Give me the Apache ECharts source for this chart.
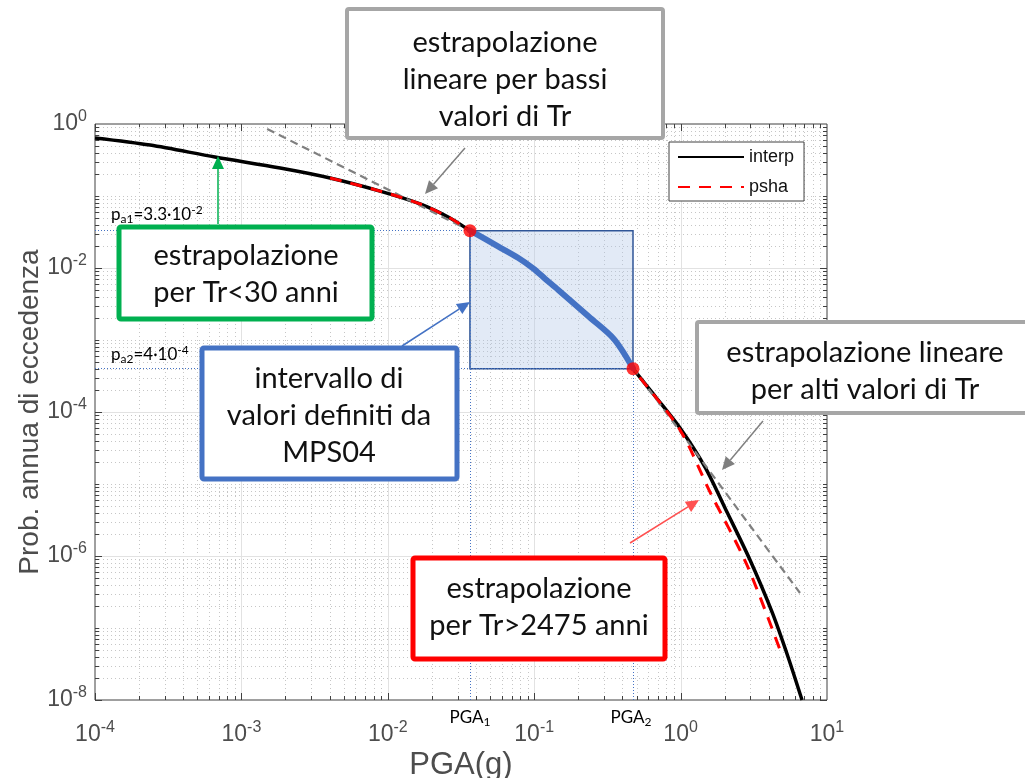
<!DOCTYPE html>
<html><head><meta charset="utf-8">
<script src="https://cdn.jsdelivr.net/npm/echarts@6/dist/echarts.min.js"></script>
<style>html,body{margin:0;padding:0;background:#fff}#c{width:1025px;height:778px}</style>
</head><body><div id="c"></div>
<script>
// ---- data ----
const interpPGA = [1e-4, 2.38e-4, 6.6e-4, 1.84e-3, 4.03e-3, 8.85e-3, 0.0166, 0.0266, 0.0364, 0.0566, 0.0775, 0.0983, 0.1185, 0.1454, 0.2367, 0.3508, 0.473, 0.668, 0.991, 1.468, 2.074, 2.98, 4.21, 5.42, 6.75];
const interpP   = [0.64, 0.51, 0.348, 0.245, 0.178, 0.117, 0.0776, 0.0495, 0.033, 0.02, 0.0139, 0.0099, 0.0071, 0.005, 0.0021, 0.00103, 4.04e-4, 1.67e-4, 6.0e-5, 1.72e-5, 4.08e-6, 8.8e-7, 1.67e-7, 3.96e-8, 1.0e-8];
const pshaPGA = [4.03e-3, 8.85e-3, 0.0166, 0.0266, 0.0364, 0.0566, 0.0775, 0.0983, 0.1185, 0.1454, 0.2367, 0.3508, 0.473, 0.991, 1.588, 2.84, 4.78];
const pshaP   = [0.178, 0.117, 0.0776, 0.0495, 0.033, 0.02, 0.0139, 0.0099, 0.0071, 0.005, 0.0021, 0.00103, 4.04e-4, 5.62e-5, 7.74e-6, 7.5e-7, 4.95e-8];
const mpsPGA = [0.0364, 0.0566, 0.0775, 0.0983, 0.1185, 0.1454, 0.2367, 0.3508, 0.473];
const mpsP   = [0.0333, 0.02, 0.0139, 0.0099, 0.0071, 0.005, 0.0021, 0.00103, 4.04e-4];
const lowTrPGA = [1.5e-3, 0.0364];
const lowTrP   = [0.853, 0.033];
const highTrPGA = [0.473, 6.54];
const highTrP   = [4.1e-4, 3.06e-7];
const PGA1 = 0.0364, PGA2 = 0.473, pa1 = 0.033, pa2 = 4.0e-4;
const xTickExp = [-4, -3, -2, -1, 0, 1];
const yTickExp = [0, -2, -4, -6, -8];
const seriesNames = ['interp', 'psha'];

const zip = (a, b) => a.map((v, i) => [v, b[i]]);
const X_MIN = 1e-4, X_MAX = 10, Y_MIN = 1e-8, Y_MAX = 1;
const ANN_FONT = 'Lato, "Open Sans", sans-serif';
const AX_FONT = '"Liberation Sans", Arial, sans-serif';
const AX_COLOR = '#4d4d4d';

function expLabel(v, list) {
  const e = Math.round(Math.log10(v));
  if (list.indexOf(e) < 0) return '';
  return '{b|10}{s|' + e + '}';
}
const axRich = {
  b: {fontSize: 23, fontFamily: AX_FONT, color: AX_COLOR},
  s: {fontSize: 16, fontFamily: AX_FONT, color: AX_COLOR, padding: [0, 0, 14, 0]}
};

function gridRender(params, api) {
  const c = [];
  const bl = api.coord([X_MIN, Y_MIN]), tr = api.coord([X_MAX, Y_MAX]);
  const L = bl[0], B = bl[1], R = tr[0], T = tr[1];
  const r = v => Math.round(v) + 0.5;
  const minorStyle = {stroke: '#c6c6c6', lineWidth: 1, lineDash: [1, 3]};
  const majorStyle = {stroke: '#e2e2e2', lineWidth: 1};
  const tickStyle = {stroke: '#404040', lineWidth: 1};
  for (let k = -4; k <= 0; k++) {
    for (let m = 1; m <= 9; m++) {
      const v = m * Math.pow(10, k);
      const px = r(api.coord([v, Y_MAX])[0]);
      const major = m === 1;
      if (!(k === -4 && m === 1)) {
        c.push({type: 'line', silent: true, shape: {x1: px, y1: T, x2: px, y2: B}, style: major ? majorStyle : minorStyle});
      }
      const len = major ? 7 : 4;
      c.push({type: 'line', silent: true, shape: {x1: px, y1: B, x2: px, y2: B - len}, style: tickStyle});
      c.push({type: 'line', silent: true, shape: {x1: px, y1: T, x2: px, y2: T + len}, style: tickStyle});
    }
  }
  for (let k = -8; k <= -1; k++) {
    for (let m = 1; m <= 9; m++) {
      const v = m * Math.pow(10, k);
      const py = r(api.coord([X_MIN, v])[1]);
      const major = m === 1 && k % 2 === 0;
      if (!(k === -8 && m === 1)) {
        c.push({type: 'line', silent: true, shape: {x1: L, y1: py, x2: R, y2: py}, style: major ? majorStyle : minorStyle});
      }
      const len = major ? 7 : 4;
      c.push({type: 'line', silent: true, shape: {x1: L, y1: py, x2: L + len, y2: py}, style: tickStyle});
      c.push({type: 'line', silent: true, shape: {x1: R, y1: py, x2: R - len, y2: py}, style: tickStyle});
    }
  }
  return {type: 'group', children: c};
}

const chart = echarts.init(document.getElementById('c'), null, {renderer: 'canvas'});

function arrow(x1, y1, x2, y2, color, w) {
  const ang = Math.atan2(y2 - y1, x2 - x1);
  const hl = 13, hw = 6;
  const bx = x2 - hl * Math.cos(ang), by = y2 - hl * Math.sin(ang);
  const nx = -Math.sin(ang), ny = Math.cos(ang);
  return [
    {type: 'line', z: 100, shape: {x1: x1, y1: y1, x2: bx, y2: by}, style: {stroke: color, lineWidth: w}},
    {type: 'polygon', z: 100, shape: {points: [[x2, y2], [bx + nx * hw, by + ny * hw], [bx - nx * hw, by - ny * hw]]}, style: {fill: color}}
  ];
}
function box(x, y, w, h, color, lw, text, cx, cy) {
  return [
    {type: 'rect', z: 100, shape: {x: x, y: y, width: w, height: h, r: 2}, style: {fill: '#fff', stroke: color, lineWidth: lw}},
    {type: 'text', z: 101, x: cx, y: cy, style: {text: text, font: '29px ' + ANN_FONT, fill: '#111', align: 'center', verticalAlign: 'middle', lineHeight: 37}}
  ];
}

const option = {
  animation: false,
  backgroundColor: '#fff',
  grid: {left: 95, top: 124, right: 198, bottom: 78, containLabel: false, outerBoundsMode: 'none',
    show: true, borderColor: '#404040', borderWidth: 1, backgroundColor: '#fff'},
  xAxis: {
    type: 'log', logBase: 10, min: X_MIN, max: X_MAX,
    name: 'PGA(g)', nameLocation: 'middle', nameGap: 50, nameMoveOverlap: false,
    nameTextStyle: {fontSize: 31, fontFamily: AX_FONT, color: AX_COLOR},
    axisLine: {show: false}, axisTick: {show: false}, splitLine: {show: false},
    axisLabel: {margin: 20, formatter: v => expLabel(v, xTickExp), rich: axRich}
  },
  yAxis: {
    type: 'log', logBase: 10, min: Y_MIN, max: Y_MAX,
    name: 'Prob. annua di eccedenza', nameLocation: 'middle', nameGap: 51, nameMoveOverlap: false,
    nameTextStyle: {fontSize: 28, fontFamily: AX_FONT, color: AX_COLOR},
    axisLine: {show: false}, axisTick: {show: false}, splitLine: {show: false},
    axisLabel: {margin: 8, formatter: v => expLabel(v, yTickExp), rich: axRich}
  },
  legend: {
    data: seriesNames, orient: 'vertical', left: 669, top: 142,
    backgroundColor: '#fff', borderColor: '#404040', borderWidth: 1, borderRadius: 0,
    padding: [6, 10, 5, 8], itemGap: 12, itemWidth: 66, itemHeight: 14,
    itemStyle: {opacity: 0},
    textStyle: {fontSize: 18, fontFamily: AX_FONT, color: '#111'}
  },
  series: [
    {type: 'custom', name: 'grid', silent: true, z: 0, renderItem: gridRender, data: [[1, 1]], encode: {x: 0, y: 1}, clip: false},
    {type: 'line', name: 'interp', data: zip(interpPGA, interpP), symbol: 'none', smooth: 0.3, z: 3,
      lineStyle: {color: '#000', width: 3.5}, itemStyle: {color: '#000'}},
    {type: 'line', name: 'lowTr', data: zip(lowTrPGA, lowTrP), symbol: 'none', z: 4,
      lineStyle: {color: '#7f7f7f', width: 2.2, type: [8, 5]}},
    {type: 'line', name: 'highTr', data: zip(highTrPGA, highTrP), symbol: 'none', z: 4,
      lineStyle: {color: '#7f7f7f', width: 2.2, type: [8, 5]}},
    {type: 'line', name: 'psha', data: zip(pshaPGA, pshaP), symbol: 'none', smooth: 0.3, z: 5,
      lineStyle: {color: '#ff0000', width: 3, type: [12, 9]}, itemStyle: {color: '#ff0000'}},
    {type: 'line', name: 'refs', data: [], symbol: 'none', z: 2,
      markLine: {silent: true, symbol: 'none', label: {show: false}, animation: false,
        lineStyle: {color: '#4472c4', width: 1, type: [1, 2]},
        data: [
          [{coord: [X_MIN, pa1]}, {coord: [PGA1, pa1]}],
          [{coord: [X_MIN, pa2]}, {coord: [PGA2, pa2]}],
          [{coord: [PGA1, Y_MIN]}, {coord: [PGA1, pa1]}],
          [{coord: [PGA2, Y_MIN]}, {coord: [PGA2, pa2]}]
        ]}},
    {type: 'line', name: 'MPS04', data: zip(mpsPGA, mpsP), symbol: 'none', smooth: 0.3, z: 6,
      lineStyle: {color: '#4472c4', width: 6, cap: 'round'},
      markArea: {silent: true, itemStyle: {color: 'rgba(180,199,231,0.38)', borderColor: '#2f5597', borderWidth: 1.5},
        data: [[{coord: [PGA1, pa1]}, {coord: [PGA2, pa2]}]]}},
    {type: 'scatter', name: 'pts', data: [[PGA1, pa1], [PGA2, pa2]], symbolSize: 13, z: 7,
      itemStyle: {color: '#ff0000'}}
  ],
  graphic: []
};
chart.setOption(option);

// annotations (call-outs)
const p1 = chart.convertToPixel({gridIndex: 0}, [PGA1, Y_MIN]);
const p2 = chart.convertToPixel({gridIndex: 0}, [PGA2, Y_MIN]);
const pr1 = chart.convertToPixel({gridIndex: 0}, [X_MIN, pa1]);
const pr2 = chart.convertToPixel({gridIndex: 0}, [X_MIN, pa2]);
const smallRich = {
  n: {fontSize: 17, fontFamily: ANN_FONT, color: '#222'},
  sb: {fontSize: 12, fontFamily: ANN_FONT, color: '#222', padding: [8, 0, 0, 0]},
  sp: {fontSize: 12, fontFamily: ANN_FONT, color: '#222', padding: [0, 0, 10, 0]}
};
let g = [];
g.push({type: 'text', z: 90, x: p1[0], y: p1[1] + 18, style: {text: '{n|PGA}{sb|1}', rich: smallRich, align: 'center', verticalAlign: 'middle'}});
g.push({type: 'text', z: 90, x: p2[0] - 2, y: p2[1] + 18, style: {text: '{n|PGA}{sb|2}', rich: smallRich, align: 'center', verticalAlign: 'middle'}});
g.push({type: 'text', z: 90, x: 111, y: pr1[1] - 16, style: {text: '{n|p}{sb|a1}{n|=3.3·10}{sp|-2}', rich: smallRich, align: 'left', verticalAlign: 'middle'}});
g.push({type: 'text', z: 90, x: 111, y: pr2[1] - 14, style: {text: '{n|p}{sb|a2}{n|=4·10}{sp|-4}', rich: smallRich, align: 'left', verticalAlign: 'middle'}});
g = g.concat(box(347, 9, 316, 129, '#a6a6a6', 4, 'estrapolazione\nlineare per bassi\nvalori di Tr', 505, 80));
g = g.concat(box(119, 227, 253, 92, '#00b050', 5, 'estrapolazione\nper Tr<30 anni', 246, 274));
g = g.concat(box(202, 348, 255, 131, '#4472c4', 5, 'intervallo di\nvalori definiti da\nMPS04', 329, 416));
g = g.concat(box(697, 322, 340, 91, '#a6a6a6', 4, 'estrapolazione lineare\nper alti valori di Tr', 865, 371));
g = g.concat(box(413, 558, 252, 101, '#ff0000', 5, 'estrapolazione\nper Tr>2475 anni', 539, 607));
g = g.concat(arrow(465, 148, 425, 194, '#7f7f7f', 1.5));
g = g.concat(arrow(218, 224, 218, 156, '#00b050', 1.5));
g = g.concat(arrow(402, 346, 470, 302, '#4472c4', 1.5));
g = g.concat(arrow(763, 421, 722, 470, '#7f7f7f', 1.5));
g = g.concat(arrow(630, 543, 699, 500, '#ff5050', 1.5));
chart.setOption({graphic: g});
</script>
</body></html>
